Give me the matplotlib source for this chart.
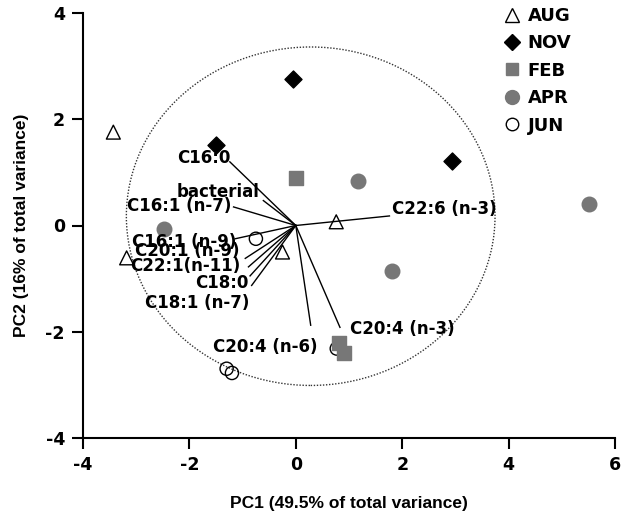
import matplotlib
matplotlib.use("Agg")
import matplotlib.pyplot as plt
from matplotlib.patches import Ellipse
from matplotlib.lines import Line2D

plt.rcParams['axes.unicode_minus'] = False

# sample scores per month (PC1, PC2)
aug_x = [-3.43, -3.18, 0.76, -0.25]
aug_y = [1.76, -0.61, 0.07, -0.50]
nov_x = [-1.50, -0.06, 2.94]
nov_y = [1.51, 2.76, 1.22]
feb_x = [0.00, 0.82, 0.91]
feb_y = [0.90, -2.22, -2.41]
apr_x = [-2.48, 1.16, 1.80, 5.52]
apr_y = [-0.06, 0.84, -0.86, 0.40]
jun_x = [-0.75, -1.30, -1.20, 0.77]
jun_y = [-0.25, -2.70, -2.78, -2.32]

# fatty acid loadings (vector tips)
fa_names = ['C16:0', 'bacterial', 'C16:1 (n-7)', 'C16:1 (n-9)', 'C20:1 (n-9)',
            'C22:1(n-11)', 'C18:0', 'C18:1 (n-7)', 'C20:4 (n-6)', 'C20:4 (n-3)',
            'C22:6 (n-3)']
load_x = [-1.24, -0.61, -1.17, -1.14, -0.95, -0.89, -0.86, -0.83, 0.28, 0.83, 1.76]
load_y = [1.20, 0.47, 0.35, -0.25, -0.62, -0.78, -0.95, -1.13, -1.88, -1.92, 0.18]
# where each label starts (left edge, vertical centre)
lab_x = [-2.24, -2.24, -3.18, -3.08, -3.02, -3.12, -1.89, -2.83, -1.55, 1.01, 1.80]
lab_y = [1.28, 0.63, 0.36, -0.31, -0.48, -0.77, -1.08, -1.47, -2.29, -1.96, 0.31]

gray = '#777777'
fam = 'DejaVu Sans'

fig = plt.figure(figsize=(6.24, 5.2), dpi=100)
ax = fig.add_axes([83 / 624, 1 - 437.7 / 520, (615 - 83) / 624, (437.7 - 13.3) / 520])

# dotted circle
ax.add_patch(Ellipse((0.28, 0.175), 6.93, 6.38, fill=False, edgecolor='#333333',
                     lw=1.0, linestyle=(0, (1, 1.2)), zorder=1))

# loading vectors
for i in range(len(fa_names)):
    ax.plot([0, load_x[i]], [0, load_y[i]], color='black', lw=1.0, zorder=2)
    ax.text(lab_x[i], lab_y[i], fa_names[i], ha='left', va='center',
            fontsize=12, fontweight='bold', family=fam, zorder=5)

ax.scatter(jun_x, jun_y, marker='o', s=90, facecolors='none', edgecolors='black',
           linewidths=1.0, zorder=3)
ax.scatter(aug_x, aug_y, marker='^', s=100, facecolors='none', edgecolors='black',
           linewidths=1.0, zorder=3)
ax.scatter(nov_x, nov_y, marker='D', s=75, color='black', zorder=3)
ax.scatter(feb_x, feb_y, marker='s', s=90, color=gray, zorder=4)
ax.scatter(apr_x, apr_y, marker='o', s=110, color=gray, zorder=4)

ax.set_xlim(-4, 6)
ax.set_ylim(-4, 4)
ax.set_xticks([-4, -2, 0, 2, 4, 6])
ax.set_yticks([-4, -2, 0, 2, 4])
ax.spines['top'].set_visible(False)
ax.spines['right'].set_visible(False)
ax.spines['left'].set_linewidth(1.5)
ax.spines['bottom'].set_linewidth(1.5)
ax.tick_params(direction='out', length=8, width=1.5, labelsize=12.5, pad=5)
for lab in ax.get_xticklabels() + ax.get_yticklabels():
    lab.set_fontweight('bold')
    lab.set_family(fam)

ax.set_xlabel('PC1 (49.5% of total variance)', fontsize=12.5, fontweight='bold',
              family='Liberation Sans', labelpad=16)
ax.set_ylabel('PC2 (16% of total variance)', fontsize=12.5, fontweight='bold',
              family='Liberation Sans', labelpad=12)

handles = [
    Line2D([], [], marker='^', ls='none', mfc='none', mec='black', ms=10, mew=1.0),
    Line2D([], [], marker='D', ls='none', color='black', ms=8.5),
    Line2D([], [], marker='s', ls='none', color=gray, ms=9),
    Line2D([], [], marker='o', ls='none', color=gray, ms=10),
    Line2D([], [], marker='o', ls='none', mfc='none', mec='black', ms=9, mew=1.0),
]
fig.legend(handles, ['AUG', 'NOV', 'FEB', 'APR', 'JUN'], loc='upper left',
           bbox_to_anchor=(496 / 624, 1 + 2 / 520), frameon=False, borderpad=0,
           handlelength=0.8, handletextpad=0.45, labelspacing=0.52,
           prop={'family': fam, 'weight': 'bold', 'size': 13})

fig.savefig('out.png', dpi=100)
